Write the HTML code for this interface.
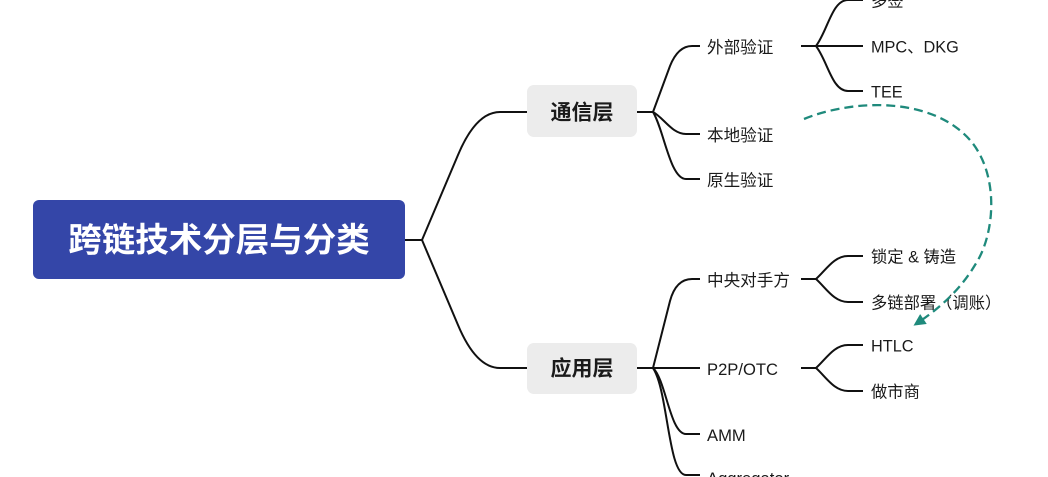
<!DOCTYPE html>
<html>
<head>
<meta charset="utf-8">
<style>
  html, body { margin:0; padding:0; background:#fff; }
  body { width:1048px; height:477px; overflow:hidden; }
  svg { display:block; }
  text { font-family: "Liberation Sans", "Noto Sans CJK SC", sans-serif; fill:#1a1a1a; }
</style>
</head>
<body>
<svg width="1048" height="477" viewBox="0 0 1048 477" xmlns="http://www.w3.org/2000/svg">
  <defs>
    <marker id="ah" markerWidth="12" markerHeight="12" refX="9" refY="6" orient="auto" markerUnits="userSpaceOnUse">
      <path d="M0,0 L12,6 L0,12 Z" fill="#1f8a7c"/>
    </marker>
  </defs>

  <!-- Root -->
  <rect x="33" y="200" width="372" height="79" rx="6" ry="6" fill="#3446a8"/>
  <text x="219" y="241" text-anchor="middle" dominant-baseline="central" font-size="33.5" font-weight="bold" style="fill:#fff">跨链技术分层与分类</text>

  <g fill="none" stroke="#111" stroke-width="2" stroke-linecap="butt">
    <!-- root connectors -->
    <path d="M405,240 L422,240"/>
    <path d="M422,240 L458,155 Q476,112 500,112 L527,112"/>
    <path d="M422,240 L458,325 Q476,368 500,368 L527,368"/>

    <!-- 通信层 children -->
    <path d="M637,112 L653,112"/>
    <path d="M653,112 L670,66 Q678,46 692,46 L700,46"/>
    <path d="M653,112 C664,118 672,134 686,134 L700,134"/>
    <path d="M653,112 C664,130 670,179 686,179 L700,179"/>

    <!-- 外部验证 children -->
    <path d="M801,46 L816,46"/>
    <path d="M816,46 C828,30 832,0 848,0 L863,0"/>
    <path d="M816,46 L863,46"/>
    <path d="M816,46 C828,62 832,91 848,91 L863,91"/>

    <!-- 应用层 children -->
    <path d="M637,368 L653,368"/>
    <path d="M653,368 L670,301 Q676,279 692,279 L700,279"/>
    <path d="M653,368 L700,368"/>
    <path d="M653,368 C666,380 670,434 686,434 L700,434"/>
    <path d="M653,368 C668,390 668,475 686,475 L700,475"/>

    <!-- 中央对手方 children -->
    <path d="M801,279 L816,279"/>
    <path d="M816,279 C826,270 834,256 848,256 L863,256"/>
    <path d="M816,279 C826,288 834,302 848,302 L863,302"/>

    <!-- P2P/OTC children -->
    <path d="M801,368 L816,368"/>
    <path d="M816,368 C826,359 834,345 848,345 L863,345"/>
    <path d="M816,368 C826,377 834,391 848,391 L863,391"/>
  </g>

  <!-- Level 1 boxes -->
  <rect x="527" y="85" width="110" height="52" rx="7" ry="7" fill="#ececec"/>
  <text x="582" y="113" text-anchor="middle" dominant-baseline="central" font-size="21" font-weight="bold">通信层</text>
  <rect x="527" y="343" width="110" height="51" rx="7" ry="7" fill="#ececec"/>
  <text x="582" y="369" text-anchor="middle" dominant-baseline="central" font-size="21" font-weight="bold">应用层</text>

  <!-- Level 2 labels -->
  <g font-size="16.6" transform="translate(0,1.5)">
    <text x="707" y="46" dominant-baseline="central">外部验证</text>
    <text x="707" y="134" dominant-baseline="central">本地验证</text>
    <text x="707" y="179" dominant-baseline="central">原生验证</text>
    <text x="707" y="279" dominant-baseline="central">中央对手方</text>
    <text x="707" y="368" dominant-baseline="central">P2P/OTC</text>
    <text x="707" y="434" dominant-baseline="central">AMM</text>
    <text x="707" y="477" dominant-baseline="central">Aggregator</text>
  </g>

  <!-- Level 3 labels -->
  <g font-size="16.3" transform="translate(0,1.5)">
    <text x="871" y="0" dominant-baseline="central">多签</text>
    <text x="871" y="46" dominant-baseline="central">MPC、DKG</text>
    <text x="871" y="91" dominant-baseline="central">TEE</text>
    <text x="871" y="256" dominant-baseline="central">锁定 &amp; 铸造</text>
    <text x="871" y="302" dominant-baseline="central">多链部署（调账）</text>
    <text x="871" y="345" dominant-baseline="central">HTLC</text>
    <text x="871" y="391" dominant-baseline="central">做市商</text>
  </g>

  <!-- dashed teal arrow -->
  <path d="M804,119 C850,100 930,95 970,140 C1000,175 995,235 975,265 C960,290 940,308 916,324"
        fill="none" stroke="#1f8a7c" stroke-width="2.3" stroke-dasharray="9,5" marker-end="url(#ah)"/>
</svg>
</body>
</html>
